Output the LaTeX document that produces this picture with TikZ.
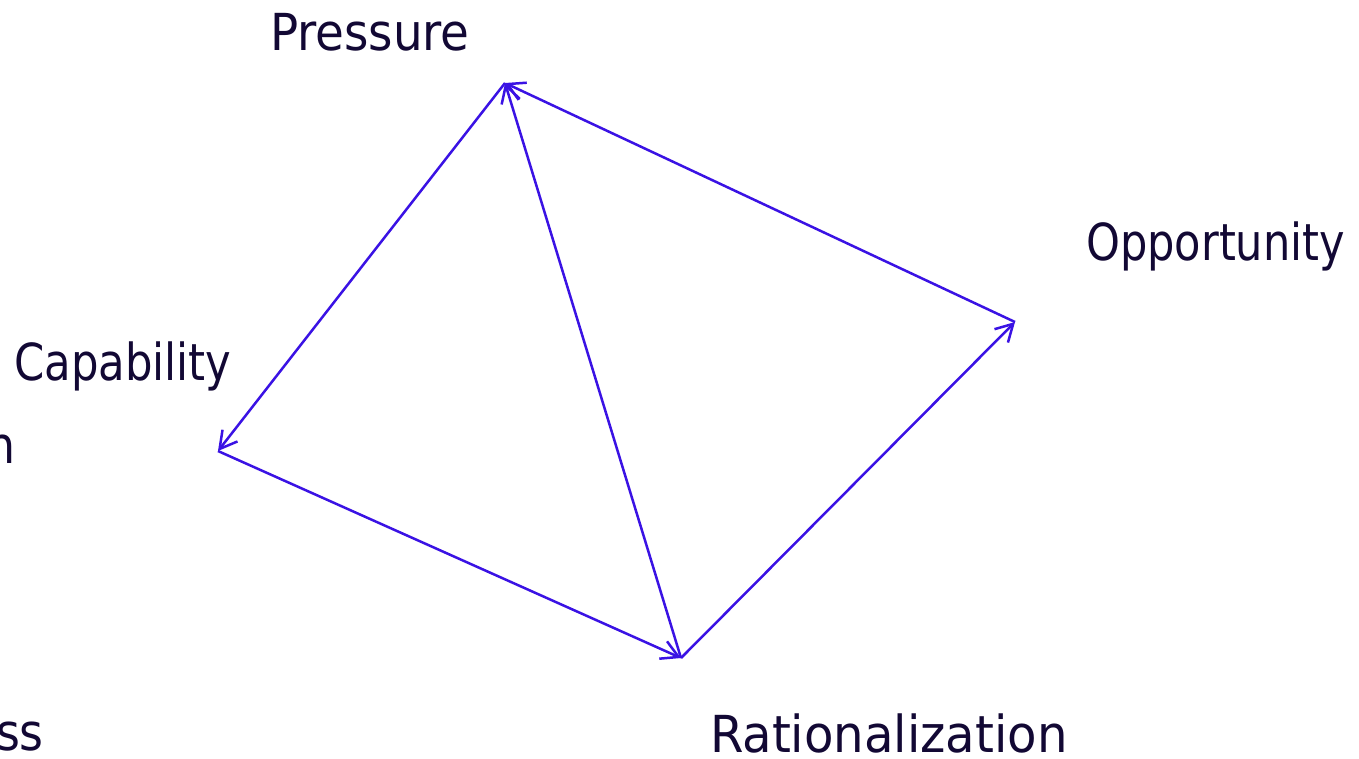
\documentclass[tikz,border=0pt]{standalone}
\usepackage{fontspec}
\setmainfont{DejaVu Sans Condensed}
\usetikzlibrary{arrows.meta}
\definecolor{edgecol}{RGB}{58,18,228}
\definecolor{txtcol}{RGB}{18,8,52}
\newcommand{\hsq}[2]{\scalebox{#1}[1]{#2}}
\begin{document}
\begin{tikzpicture}[x=1pt,y=-1pt,
  lbl/.style={font=\fontsize{51}{60}\selectfont, text=txtcol, inner sep=0pt},
  edge/.style={draw=edgecol, line width=2.5pt, -{Straight Barb[length=17pt,width=19pt,line width=2.5pt]}}]
\useasboundingbox (0,0) rectangle (1359,758);
\clip (0,0) rectangle (1359,758);
\coordinate (P) at (505,83);
\coordinate (C) at (218,451);
\coordinate (R) at (681,658);
\coordinate (O) at (1015,322);
\node[lbl, anchor=base west] (lp) at (270,50) {\hsq{1.02}{Pressure}};
\node[lbl, anchor=base west] (lo) at (1086,260) {\hsq{0.94}{Opportunity}};
\node[lbl, anchor=base west] (lc) at (14,380) {\hsq{0.945}{Capability}};
\node[lbl, anchor=base east] (ln) at (16,463) {n};
\node[lbl, anchor=base east] (le) at (44,750) {ess};
\node[lbl, anchor=base west] (lr) at (710,752) {\hsq{1.05}{Rationalization}};
\draw[edge] (P) -- (C);
\draw[edge] (C) -- (R);
\draw[edge] (R) -- (P);
\draw[edge] (R) -- (O);
\draw[edge] (O) -- (P);
\end{tikzpicture}
\end{document}
